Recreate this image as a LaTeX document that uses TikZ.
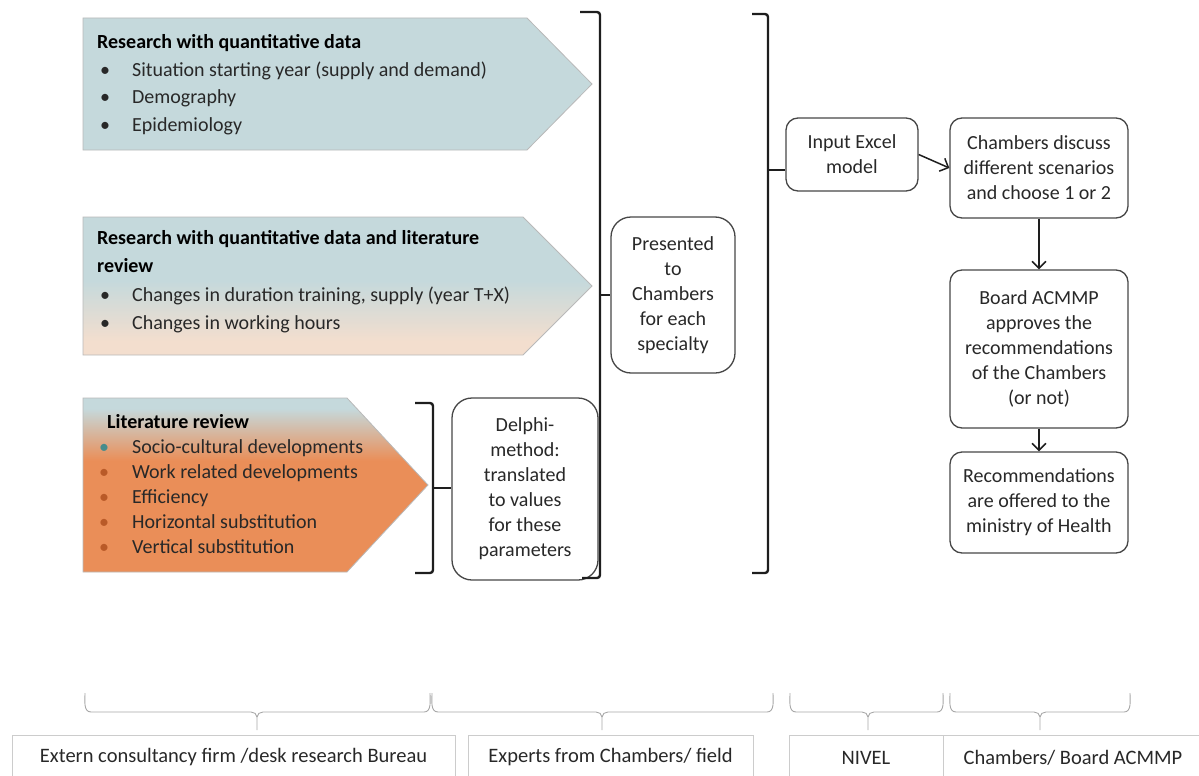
\documentclass[tikz,border=0pt]{standalone}
\usepackage{fontspec}
\setmainfont{Carlito}
\usetikzlibrary{arrows.meta}
\definecolor{bluegray}{RGB}{197,217,220}
\definecolor{peach}{RGB}{243,222,206}
\definecolor{orng}{RGB}{234,142,88}
\definecolor{brkc}{RGB}{30,30,30}
\definecolor{boxc}{RGB}{70,70,70}
\definecolor{txtc}{RGB}{40,40,40}
\definecolor{tealb}{RGB}{70,140,140}
\definecolor{orgb}{RGB}{185,90,40}
\pgfdeclareverticalshading{shtwo}{100bp}{color(0bp)=(peach); color(30bp)=(peach); color(52bp)=(bluegray); color(100bp)=(bluegray)}
\pgfdeclareverticalshading{shthree}{100bp}{color(0bp)=(orng); color(57bp)=(orng); color(72bp)=(bluegray); color(100bp)=(bluegray)}
\begin{document}
\begin{tikzpicture}[x=1pt,y=-1pt,
  brk/.style={draw=brkc, line width=2.4pt, rounded corners=3pt},
  brc/.style={draw=gray!70, line width=0.9pt},
  conn/.style={draw=brkc, line width=1.5pt, -{Straight Barb[length=7pt,width=14pt]}},
  box/.style={draw=boxc, line width=1.3pt, rounded corners=12pt, align=center, inner sep=0pt, font=\fontsize{20}{25}\selectfont, text=txtc},
  bigbox/.style={box, rounded corners=20pt},
  lab/.style={draw=gray!40, line width=0.9pt, minimum height=45pt, inner sep=0pt, font=\fontsize{20.5}{24}\selectfont, text=txtc},
  arrtxt/.style={anchor=base west, inner sep=0pt, text=txtc},
  arrshape/.style={draw=gray!55, line width=0.8pt}
]
\useasboundingbox (0,0) rectangle (1199,776);
\clip (0,0) rectangle (1199,776);

% ---------- left arrows ----------
\path[arrshape, fill=bluegray] (83,18) -- (527,18) -- (592,84) -- (527,150) -- (83,150) -- cycle;
\path[arrshape, shading=shtwo] (83,217) -- (523,217) -- (592,286) -- (523,355) -- (83,355) -- cycle;
\path[arrshape, shading=shthree] (83,398) -- (347,398) -- (428,485) -- (347,572) -- (83,572) -- cycle;

\node[arrtxt, font=\fontsize{20}{27.7}\selectfont] (t1) at (97,48.5) {%
\begin{tabular}[t]{@{}p{35pt}@{}l@{}}
\multicolumn{2}{@{}l@{}}{\color{black}\bfseries Research with quantitative data}\\
\hspace{3pt}\textbullet & Situation starting year (supply and demand)\\
\hspace{3pt}\textbullet & Demography\\
\hspace{3pt}\textbullet & Epidemiology
\end{tabular}};

\node[arrtxt, font=\fontsize{20}{28.3}\selectfont] (t2) at (97,244.5) {%
\begin{tabular}[t]{@{}p{35pt}@{}l@{}}
\multicolumn{2}{@{}l@{}}{\color{black}\bfseries Research with quantitative data and literature}\\
\multicolumn{2}{@{}l@{}}{\color{black}\bfseries review}\\
\hspace{3pt}\textbullet & Changes in duration training, supply (year T+X)\\
\hspace{3pt}\textbullet & Changes in working hours
\end{tabular}};

\node[arrtxt, font=\fontsize{20}{25}\selectfont] (t3) at (99,428.5) {%
\begin{tabular}[t]{@{}p{33pt}@{}l@{}}
\multicolumn{2}{@{}l@{}}{\hspace{8pt}\color{black}\bfseries Literature review}\\
\textcolor{tealb}{\textbullet} & Socio-cultural developments\\
\textcolor{orgb}{\textbullet} & Work related developments\\
\textcolor{orgb}{\textbullet} & Efficiency\\
\textcolor{orgb}{\textbullet} & Horizontal substitution\\
\textcolor{orgb}{\textbullet} & Vertical substitution
\end{tabular}};

% ---------- boxes ----------
\node[bigbox, minimum width=146pt, minimum height=182pt] (del) at (525,489)
  {Delphi-\\method:\\translated\\to values\\for these\\parameters};
\node[bigbox, minimum width=124pt, minimum height=156pt] (pres) at (673,295)
  {Presented\\to\\Chambers\\for each\\specialty};
\node[box, minimum width=132pt, minimum height=73pt] (in) at (852,154.5)
  {Input Excel\\model};
\node[box, minimum width=178pt, minimum height=100pt] (ch) at (1039,168)
  {Chambers discuss\\different scenarios\\and choose 1 or 2};
\node[box, minimum width=178pt, minimum height=158pt] (bd) at (1039,349)
  {Board ACMMP\\approves the\\recommendations\\of the Chambers\\(or not)};
\node[box, minimum width=178pt, minimum height=101pt] (rec) at (1039,502.5)
  {Recommendations\\are offered to the\\ministry of Health};

% ---------- brackets ----------
\draw[brk] (415,403) -- (433,403) -- (433,573) -- (415,573);
\draw[brk] (433,488) -- (del.west |- 0,488);
\draw[brk] (580,12) -- (600,12) -- (600,578) -- (582,578);
\draw[brk] (600,295) -- (pres.west);
\draw[brk] (752,14) -- (768,14) -- (768,573) -- (752,573);
\coordinate (t2a) at (768,170);
\draw[brk] (t2a) -- (in.west |- t2a);

% ---------- flow arrows ----------
\draw[conn] (in.east) -- (ch.west);
\draw[conn] (ch.south) -- (bd.north);
\draw[conn] (bd.south) -- (rec.north);

% ---------- bottom braces ----------
\foreach \xa/\xm/\xb/\nm in {85/257/430/ba, 432/602/773/bb, 790/868/943/bc, 950/1040/1130/bd}{
  \coordinate (\nm) at (\xm,730);
  \draw[brc] (\xa,693) to[out=-90,in=180] (\xa+6,712) -- (\xm-6,712)
     to[out=0,in=90] (\xm,717) -- (\nm);
  \draw[brc] (\xm,717) to[out=90,in=180] (\xm+6,712) -- (\xb-6,712)
     to[out=0,in=-90] (\xb,693);
}

% ---------- bottom labels ----------
\node[lab, minimum width=443pt] (l1) at (233.5,757.5) {Extern consultancy firm /desk research Bureau};
\node[lab, minimum width=285pt] (l2) at (610.5,757.5) {Experts from Chambers/ field};
\node[lab, minimum width=154pt] (l3) at (866,757.5) {NIVEL};
\node[lab, minimum width=260pt] (l4) at (1073,757.5) {Chambers/ Board ACMMP};
\end{tikzpicture}
\end{document}
